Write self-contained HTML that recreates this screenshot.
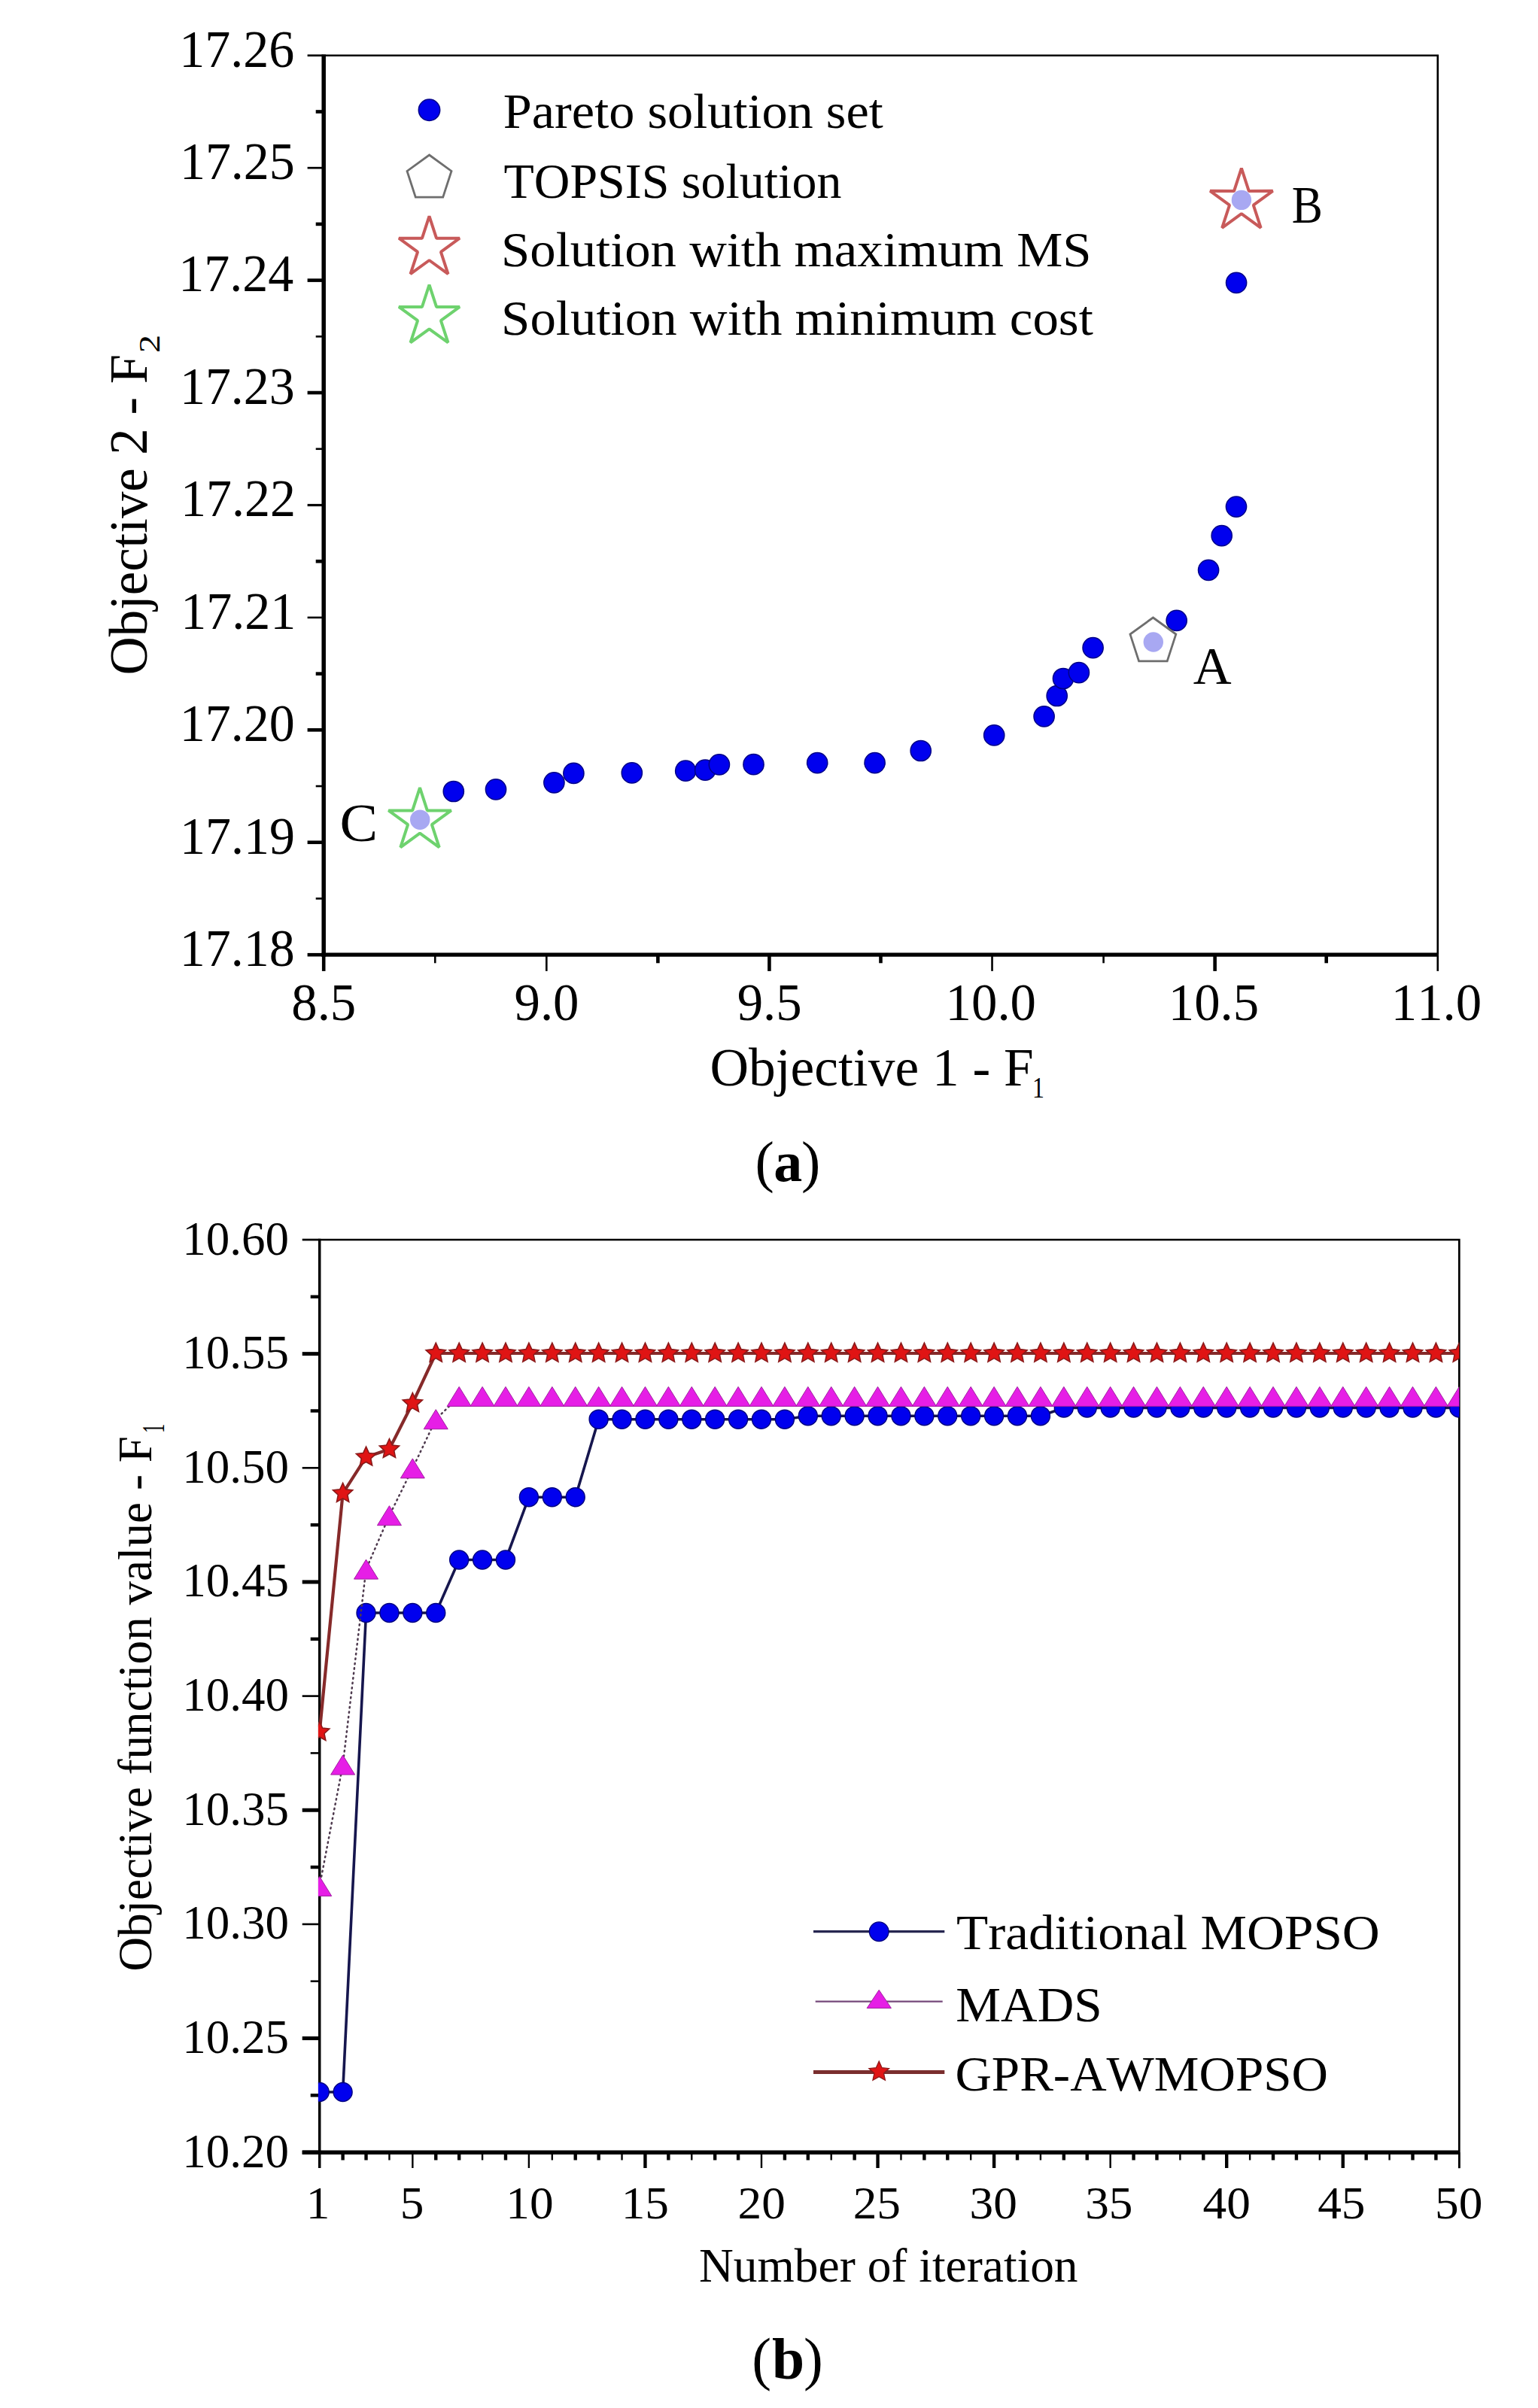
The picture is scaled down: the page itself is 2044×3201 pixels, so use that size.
<!DOCTYPE html><html><head><meta charset="utf-8"><style>html,body{margin:0;padding:0;background:#fff}svg{display:block}text{font-family:'Liberation Serif', 'DejaVu Serif', serif;font-kerning:none}</style></head><body>
<svg width="2044" height="3201" viewBox="0 0 2044 3201">
<rect x="0" y="0" width="2044" height="3201" fill="#fff"/>
<line x1="408.60" y1="73.75" x2="430.20" y2="73.75" stroke="#000" stroke-width="2.7" />
<line x1="419.70" y1="148.47" x2="430.20" y2="148.47" stroke="#000" stroke-width="4.6" />
<line x1="408.60" y1="223.18" x2="430.20" y2="223.18" stroke="#000" stroke-width="2.7" />
<line x1="419.70" y1="297.90" x2="430.20" y2="297.90" stroke="#000" stroke-width="4.6" />
<line x1="408.60" y1="372.61" x2="430.20" y2="372.61" stroke="#000" stroke-width="4.6" />
<line x1="419.70" y1="447.33" x2="430.20" y2="447.33" stroke="#000" stroke-width="2.6" />
<line x1="408.60" y1="522.04" x2="430.20" y2="522.04" stroke="#000" stroke-width="4.6" />
<line x1="419.70" y1="596.76" x2="430.20" y2="596.76" stroke="#000" stroke-width="2.6" />
<line x1="408.60" y1="671.48" x2="430.20" y2="671.48" stroke="#000" stroke-width="3.2" />
<line x1="419.70" y1="746.19" x2="430.20" y2="746.19" stroke="#000" stroke-width="4.6" />
<line x1="408.60" y1="820.91" x2="430.20" y2="820.91" stroke="#000" stroke-width="2.6" />
<line x1="419.70" y1="895.62" x2="430.20" y2="895.62" stroke="#000" stroke-width="4.6" />
<line x1="408.60" y1="970.34" x2="430.20" y2="970.34" stroke="#000" stroke-width="4.6" />
<line x1="419.70" y1="1045.05" x2="430.20" y2="1045.05" stroke="#000" stroke-width="2.6" />
<line x1="408.60" y1="1119.77" x2="430.20" y2="1119.77" stroke="#000" stroke-width="4.6" />
<line x1="419.70" y1="1194.48" x2="430.20" y2="1194.48" stroke="#000" stroke-width="2.6" />
<line x1="408.60" y1="1269.20" x2="430.20" y2="1269.20" stroke="#000" stroke-width="4.6" />
<line x1="430.20" y1="1269.20" x2="430.20" y2="1290.90" stroke="#000" stroke-width="4.6" />
<line x1="578.25" y1="1269.20" x2="578.25" y2="1280.30" stroke="#000" stroke-width="2.6" />
<line x1="726.31" y1="1269.20" x2="726.31" y2="1290.90" stroke="#000" stroke-width="2.6" />
<line x1="874.37" y1="1269.20" x2="874.37" y2="1280.30" stroke="#000" stroke-width="4.6" />
<line x1="1022.42" y1="1269.20" x2="1022.42" y2="1290.90" stroke="#000" stroke-width="4.6" />
<line x1="1170.48" y1="1269.20" x2="1170.48" y2="1280.30" stroke="#000" stroke-width="4.6" />
<line x1="1318.53" y1="1269.20" x2="1318.53" y2="1290.90" stroke="#000" stroke-width="2.6" />
<line x1="1466.59" y1="1269.20" x2="1466.59" y2="1280.30" stroke="#000" stroke-width="2.6" />
<line x1="1614.64" y1="1269.20" x2="1614.64" y2="1290.90" stroke="#000" stroke-width="4.6" />
<line x1="1762.70" y1="1269.20" x2="1762.70" y2="1280.30" stroke="#000" stroke-width="4.6" />
<line x1="1910.75" y1="1269.20" x2="1910.75" y2="1290.90" stroke="#000" stroke-width="2.6" />
<polyline points="430.2,73.75 1910.75,73.75 1910.75,1269.2" fill="none" stroke="#000" stroke-width="2.6" stroke-linejoin="miter"/>
<line x1="430.20" y1="72.45" x2="430.20" y2="1271.80" stroke="#000" stroke-width="5.5" />
<line x1="427.50" y1="1269.20" x2="1910.75" y2="1269.20" stroke="#000" stroke-width="5.2" />
<text transform="translate(238.29,88.55) scale(0.9780,1)" font-size="69.5" font-weight="normal" fill="#000" >17.26</text>
<text transform="translate(238.92,237.98) scale(0.9780,1)" font-size="69.5" font-weight="normal" fill="#000" >17.25</text>
<text transform="translate(237.33,387.41) scale(0.9780,1)" font-size="69.5" font-weight="normal" fill="#000" >17.24</text>
<text transform="translate(238.92,536.84) scale(0.9780,1)" font-size="69.5" font-weight="normal" fill="#000" >17.23</text>
<text transform="translate(240.02,686.27) scale(0.9780,1)" font-size="69.5" font-weight="normal" fill="#000" >17.22</text>
<text transform="translate(240.35,835.71) scale(0.9780,1)" font-size="69.5" font-weight="normal" fill="#000" >17.21</text>
<text transform="translate(238.85,985.14) scale(0.9780,1)" font-size="69.5" font-weight="normal" fill="#000" >17.20</text>
<text transform="translate(239.05,1134.57) scale(0.9780,1)" font-size="69.5" font-weight="normal" fill="#000" >17.19</text>
<text transform="translate(238.85,1284.00) scale(0.9780,1)" font-size="69.5" font-weight="normal" fill="#000" >17.18</text>
<text transform="translate(387.23,1355.50) scale(0.9900,1)" font-size="69.5" font-weight="normal" fill="#000" >8.5</text>
<text transform="translate(683.51,1355.50) scale(0.9900,1)" font-size="69.5" font-weight="normal" fill="#000" >9.0</text>
<text transform="translate(979.65,1355.50) scale(0.9900,1)" font-size="69.5" font-weight="normal" fill="#000" >9.5</text>
<text transform="translate(1256.61,1355.50) scale(0.9900,1)" font-size="69.5" font-weight="normal" fill="#000" >10.0</text>
<text transform="translate(1552.76,1355.50) scale(0.9900,1)" font-size="69.5" font-weight="normal" fill="#000" >10.5</text>
<text transform="translate(1848.83,1355.50) scale(0.9900,1)" font-size="69.5" font-weight="normal" fill="#000" >11.0</text>
<text transform="translate(943.47,1442.80) scale(0.9920,1)" font-size="72" font-weight="normal" fill="#000" >Objective 1 - F</text>
<text transform="translate(1371.90,1459.00) scale(0.7953,1)" font-size="40" font-weight="normal" fill="#000" >1</text>
<text transform="translate(194.80,897.40) rotate(-90) scale(0.9831,1)" font-size="72">Objective 2 - F</text>
<text transform="translate(212.00,469.14) rotate(-90) scale(1.2161,1)" font-size="40">2</text>
<circle cx="570.5" cy="146.2" r="14.2" fill="#0000ee" stroke="#000088" stroke-width="1.5"/>
<polygon points="570.50,206.00 599.98,227.42 588.72,262.08 552.28,262.08 541.02,227.42" fill="none" stroke="#6e6e6e" stroke-width="2.8" stroke-linejoin="miter"/>
<polygon points="570.50,287.30 580.02,316.69 610.92,316.67 585.91,334.81 595.48,364.18 570.50,346.00 545.52,364.18 555.09,334.81 530.08,316.67 560.98,316.69" fill="none" stroke="#c85a5a" stroke-width="4" stroke-linejoin="bevel"/>
<polygon points="570.50,378.60 580.02,407.99 610.92,407.97 585.91,426.11 595.48,455.48 570.50,437.30 545.52,455.48 555.09,426.11 530.08,407.97 560.98,407.99" fill="none" stroke="#6ed26e" stroke-width="4" stroke-linejoin="bevel"/>
<text transform="translate(668.73,169.90) scale(1.0601,1)" font-size="64.5" font-weight="normal" fill="#000" >Pareto solution set</text>
<text transform="translate(669.51,262.50) scale(1.0224,1)" font-size="64.5" font-weight="normal" fill="#000" >TOPSIS solution</text>
<text transform="translate(666.10,353.60) scale(1.0653,1)" font-size="64.5" font-weight="normal" fill="#000" >Solution with maximum MS</text>
<text transform="translate(666.09,444.60) scale(1.0684,1)" font-size="64.5" font-weight="normal" fill="#000" >Solution with minimum cost</text>
<circle cx="602.8" cy="1052" r="13.6" fill="#0000ee" stroke="#000088" stroke-width="1.5"/>
<circle cx="659" cy="1049.4" r="13.6" fill="#0000ee" stroke="#000088" stroke-width="1.5"/>
<circle cx="736.4" cy="1040.3" r="13.6" fill="#0000ee" stroke="#000088" stroke-width="1.5"/>
<circle cx="762.4" cy="1027.9" r="13.6" fill="#0000ee" stroke="#000088" stroke-width="1.5"/>
<circle cx="839.8" cy="1027.4" r="13.6" fill="#0000ee" stroke="#000088" stroke-width="1.5"/>
<circle cx="911.2" cy="1024.7" r="13.6" fill="#0000ee" stroke="#000088" stroke-width="1.5"/>
<circle cx="937.2" cy="1023.7" r="13.6" fill="#0000ee" stroke="#000088" stroke-width="1.5"/>
<circle cx="955.9" cy="1016.4" r="13.6" fill="#0000ee" stroke="#000088" stroke-width="1.5"/>
<circle cx="1001.5" cy="1016.2" r="13.6" fill="#0000ee" stroke="#000088" stroke-width="1.5"/>
<circle cx="1086.2" cy="1014.2" r="13.6" fill="#0000ee" stroke="#000088" stroke-width="1.5"/>
<circle cx="1162.6" cy="1014.2" r="13.6" fill="#0000ee" stroke="#000088" stroke-width="1.5"/>
<circle cx="1223.7" cy="998" r="13.6" fill="#0000ee" stroke="#000088" stroke-width="1.5"/>
<circle cx="1321.2" cy="977.4" r="13.6" fill="#0000ee" stroke="#000088" stroke-width="1.5"/>
<circle cx="1387.6" cy="952.4" r="13.6" fill="#0000ee" stroke="#000088" stroke-width="1.5"/>
<circle cx="1404.7" cy="925" r="13.6" fill="#0000ee" stroke="#000088" stroke-width="1.5"/>
<circle cx="1413" cy="902" r="13.6" fill="#0000ee" stroke="#000088" stroke-width="1.5"/>
<circle cx="1433.9" cy="894.1" r="13.6" fill="#0000ee" stroke="#000088" stroke-width="1.5"/>
<circle cx="1452.6" cy="861.1" r="13.6" fill="#0000ee" stroke="#000088" stroke-width="1.5"/>
<circle cx="1563.7" cy="824.8" r="13.6" fill="#0000ee" stroke="#000088" stroke-width="1.5"/>
<circle cx="1606.1" cy="757.8" r="13.6" fill="#0000ee" stroke="#000088" stroke-width="1.5"/>
<circle cx="1623.7" cy="712.1" r="13.6" fill="#0000ee" stroke="#000088" stroke-width="1.5"/>
<circle cx="1643" cy="673.6" r="13.6" fill="#0000ee" stroke="#000088" stroke-width="1.5"/>
<circle cx="1643.1" cy="375.8" r="13.6" fill="#0000ee" stroke="#000088" stroke-width="1.5"/>
<circle cx="558.2" cy="1089.7" r="13.2" fill="#a8a8f2"/>
<circle cx="1532.8" cy="853.5" r="13.2" fill="#a8a8f2"/>
<circle cx="1649.9" cy="265.9" r="13.2" fill="#a8a8f2"/>
<polygon points="1532.40,821.00 1562.83,843.11 1551.21,878.89 1513.59,878.89 1501.97,843.11" fill="none" stroke="#6e6e6e" stroke-width="2.8"/>
<polygon points="1649.90,223.60 1659.72,253.89 1691.56,253.87 1665.78,272.56 1675.64,302.83 1649.90,284.10 1624.16,302.83 1634.02,272.56 1608.24,253.87 1640.08,253.89" fill="none" stroke="#c85a5a" stroke-width="4" stroke-linejoin="bevel"/>
<polygon points="558.00,1047.20 567.82,1077.49 599.66,1077.47 573.88,1096.16 583.74,1126.43 558.00,1107.70 532.26,1126.43 542.12,1096.16 516.34,1077.47 548.18,1077.49" fill="none" stroke="#6ed26e" stroke-width="4" stroke-linejoin="bevel"/>
<text transform="translate(1585.81,909.30) scale(1.0000,1)" font-size="70.5" font-weight="normal" fill="#000" >A</text>
<text transform="translate(1716.63,295.50) scale(0.8737,1)" font-size="70.5" font-weight="normal" fill="#000" >B</text>
<text transform="translate(451.49,1118.00) scale(1.0536,1)" font-size="72" font-weight="normal" fill="#000" >C</text>
<text x="1003.46" y="1570.3" font-size="76">(</text>
<text x="1028.35" y="1570.3" font-size="76" font-weight="bold">a</text>
<text x="1065.03" y="1570.3" font-size="76">)</text>
<polyline points="424.7,1648.0 1939.3,1648.0 1939.3,2882.2" fill="none" stroke="#000" stroke-width="2.7" stroke-linejoin="miter"/>
<line x1="401.70" y1="1648.00" x2="424.70" y2="1648.00" stroke="#000" stroke-width="2.7" />
<line x1="412.70" y1="1723.83" x2="424.70" y2="1723.83" stroke="#000" stroke-width="4.4" />
<line x1="401.70" y1="1799.65" x2="424.70" y2="1799.65" stroke="#000" stroke-width="5.0" />
<line x1="412.70" y1="1875.48" x2="424.70" y2="1875.48" stroke="#000" stroke-width="4.4" />
<line x1="401.70" y1="1951.30" x2="424.70" y2="1951.30" stroke="#000" stroke-width="2.6" />
<line x1="412.70" y1="2027.12" x2="424.70" y2="2027.12" stroke="#000" stroke-width="4.4" />
<line x1="401.70" y1="2102.95" x2="424.70" y2="2102.95" stroke="#000" stroke-width="5.0" />
<line x1="412.70" y1="2178.77" x2="424.70" y2="2178.77" stroke="#000" stroke-width="4.4" />
<line x1="401.70" y1="2254.60" x2="424.70" y2="2254.60" stroke="#000" stroke-width="2.6" />
<line x1="412.70" y1="2330.42" x2="424.70" y2="2330.42" stroke="#000" stroke-width="2.6" />
<line x1="401.70" y1="2406.25" x2="424.70" y2="2406.25" stroke="#000" stroke-width="5.0" />
<line x1="412.70" y1="2482.07" x2="424.70" y2="2482.07" stroke="#000" stroke-width="4.4" />
<line x1="401.70" y1="2557.90" x2="424.70" y2="2557.90" stroke="#000" stroke-width="2.6" />
<line x1="412.70" y1="2633.72" x2="424.70" y2="2633.72" stroke="#000" stroke-width="2.6" />
<line x1="401.70" y1="2709.55" x2="424.70" y2="2709.55" stroke="#000" stroke-width="5.0" />
<line x1="412.70" y1="2785.37" x2="424.70" y2="2785.37" stroke="#000" stroke-width="4.4" />
<line x1="401.70" y1="2861.20" x2="424.70" y2="2861.20" stroke="#000" stroke-width="5.0" />
<line x1="424.70" y1="2861.20" x2="424.70" y2="2882.00" stroke="#000" stroke-width="2.4" />
<line x1="455.61" y1="2861.20" x2="455.61" y2="2871.50" stroke="#000" stroke-width="4.4" />
<line x1="486.52" y1="2861.20" x2="486.52" y2="2871.50" stroke="#000" stroke-width="4.4" />
<line x1="517.43" y1="2861.20" x2="517.43" y2="2871.50" stroke="#000" stroke-width="2.4" />
<line x1="548.34" y1="2861.20" x2="548.34" y2="2882.00" stroke="#000" stroke-width="2.4" />
<line x1="579.25" y1="2861.20" x2="579.25" y2="2871.50" stroke="#000" stroke-width="4.4" />
<line x1="610.16" y1="2861.20" x2="610.16" y2="2871.50" stroke="#000" stroke-width="4.4" />
<line x1="641.07" y1="2861.20" x2="641.07" y2="2871.50" stroke="#000" stroke-width="2.4" />
<line x1="671.98" y1="2861.20" x2="671.98" y2="2871.50" stroke="#000" stroke-width="4.4" />
<line x1="702.89" y1="2861.20" x2="702.89" y2="2882.00" stroke="#000" stroke-width="2.4" />
<line x1="733.80" y1="2861.20" x2="733.80" y2="2871.50" stroke="#000" stroke-width="2.4" />
<line x1="764.71" y1="2861.20" x2="764.71" y2="2871.50" stroke="#000" stroke-width="4.4" />
<line x1="795.62" y1="2861.20" x2="795.62" y2="2871.50" stroke="#000" stroke-width="4.4" />
<line x1="826.53" y1="2861.20" x2="826.53" y2="2871.50" stroke="#000" stroke-width="2.4" />
<line x1="857.44" y1="2861.20" x2="857.44" y2="2882.00" stroke="#000" stroke-width="4.4" />
<line x1="888.35" y1="2861.20" x2="888.35" y2="2871.50" stroke="#000" stroke-width="4.4" />
<line x1="919.26" y1="2861.20" x2="919.26" y2="2871.50" stroke="#000" stroke-width="2.4" />
<line x1="950.17" y1="2861.20" x2="950.17" y2="2871.50" stroke="#000" stroke-width="4.4" />
<line x1="981.08" y1="2861.20" x2="981.08" y2="2871.50" stroke="#000" stroke-width="4.4" />
<line x1="1011.99" y1="2861.20" x2="1011.99" y2="2882.00" stroke="#000" stroke-width="2.4" />
<line x1="1042.90" y1="2861.20" x2="1042.90" y2="2871.50" stroke="#000" stroke-width="4.4" />
<line x1="1073.81" y1="2861.20" x2="1073.81" y2="2871.50" stroke="#000" stroke-width="4.4" />
<line x1="1104.72" y1="2861.20" x2="1104.72" y2="2871.50" stroke="#000" stroke-width="2.4" />
<line x1="1135.63" y1="2861.20" x2="1135.63" y2="2871.50" stroke="#000" stroke-width="4.4" />
<line x1="1166.54" y1="2861.20" x2="1166.54" y2="2882.00" stroke="#000" stroke-width="4.4" />
<line x1="1197.46" y1="2861.20" x2="1197.46" y2="2871.50" stroke="#000" stroke-width="2.4" />
<line x1="1228.37" y1="2861.20" x2="1228.37" y2="2871.50" stroke="#000" stroke-width="4.4" />
<line x1="1259.28" y1="2861.20" x2="1259.28" y2="2871.50" stroke="#000" stroke-width="4.4" />
<line x1="1290.19" y1="2861.20" x2="1290.19" y2="2871.50" stroke="#000" stroke-width="2.4" />
<line x1="1321.10" y1="2861.20" x2="1321.10" y2="2882.00" stroke="#000" stroke-width="4.4" />
<line x1="1352.01" y1="2861.20" x2="1352.01" y2="2871.50" stroke="#000" stroke-width="4.4" />
<line x1="1382.92" y1="2861.20" x2="1382.92" y2="2871.50" stroke="#000" stroke-width="2.4" />
<line x1="1413.83" y1="2861.20" x2="1413.83" y2="2871.50" stroke="#000" stroke-width="4.4" />
<line x1="1444.74" y1="2861.20" x2="1444.74" y2="2871.50" stroke="#000" stroke-width="4.4" />
<line x1="1475.65" y1="2861.20" x2="1475.65" y2="2882.00" stroke="#000" stroke-width="2.4" />
<line x1="1506.56" y1="2861.20" x2="1506.56" y2="2871.50" stroke="#000" stroke-width="4.4" />
<line x1="1537.47" y1="2861.20" x2="1537.47" y2="2871.50" stroke="#000" stroke-width="4.4" />
<line x1="1568.38" y1="2861.20" x2="1568.38" y2="2871.50" stroke="#000" stroke-width="2.4" />
<line x1="1599.29" y1="2861.20" x2="1599.29" y2="2871.50" stroke="#000" stroke-width="4.4" />
<line x1="1630.20" y1="2861.20" x2="1630.20" y2="2882.00" stroke="#000" stroke-width="4.4" />
<line x1="1661.11" y1="2861.20" x2="1661.11" y2="2871.50" stroke="#000" stroke-width="2.4" />
<line x1="1692.02" y1="2861.20" x2="1692.02" y2="2871.50" stroke="#000" stroke-width="4.4" />
<line x1="1722.93" y1="2861.20" x2="1722.93" y2="2871.50" stroke="#000" stroke-width="4.4" />
<line x1="1753.84" y1="2861.20" x2="1753.84" y2="2871.50" stroke="#000" stroke-width="2.4" />
<line x1="1784.75" y1="2861.20" x2="1784.75" y2="2882.00" stroke="#000" stroke-width="4.4" />
<line x1="1815.66" y1="2861.20" x2="1815.66" y2="2871.50" stroke="#000" stroke-width="4.4" />
<line x1="1846.57" y1="2861.20" x2="1846.57" y2="2871.50" stroke="#000" stroke-width="2.4" />
<line x1="1877.48" y1="2861.20" x2="1877.48" y2="2871.50" stroke="#000" stroke-width="4.4" />
<line x1="1908.39" y1="2861.20" x2="1908.39" y2="2871.50" stroke="#000" stroke-width="4.4" />
<line x1="1939.30" y1="2861.20" x2="1939.30" y2="2882.00" stroke="#000" stroke-width="2.4" />
<line x1="424.70" y1="1646.70" x2="424.70" y2="2882.00" stroke="#000" stroke-width="3.5" />
<line x1="401.70" y1="2861.20" x2="1939.30" y2="2861.20" stroke="#000" stroke-width="5.6" />
<text transform="translate(242.15,1667.50) scale(1.0000,1)" font-size="63" font-weight="normal" fill="#000" >10.60</text>
<text transform="translate(242.21,1819.15) scale(1.0000,1)" font-size="63" font-weight="normal" fill="#000" >10.55</text>
<text transform="translate(242.15,1970.80) scale(1.0000,1)" font-size="63" font-weight="normal" fill="#000" >10.50</text>
<text transform="translate(242.21,2122.45) scale(1.0000,1)" font-size="63" font-weight="normal" fill="#000" >10.45</text>
<text transform="translate(242.15,2274.10) scale(1.0000,1)" font-size="63" font-weight="normal" fill="#000" >10.40</text>
<text transform="translate(242.21,2425.75) scale(1.0000,1)" font-size="63" font-weight="normal" fill="#000" >10.35</text>
<text transform="translate(242.15,2577.40) scale(1.0000,1)" font-size="63" font-weight="normal" fill="#000" >10.30</text>
<text transform="translate(242.21,2729.05) scale(1.0000,1)" font-size="63" font-weight="normal" fill="#000" >10.25</text>
<text transform="translate(242.15,2880.70) scale(1.0000,1)" font-size="63" font-weight="normal" fill="#000" >10.20</text>
<text transform="translate(406.78,2948.50) scale(1.0300,1)" font-size="61.5" font-weight="normal" fill="#000" >1</text>
<text transform="translate(531.86,2948.50) scale(1.0300,1)" font-size="61.5" font-weight="normal" fill="#000" >5</text>
<text transform="translate(672.25,2948.50) scale(1.0300,1)" font-size="61.5" font-weight="normal" fill="#000" >10</text>
<text transform="translate(825.68,2948.50) scale(1.0300,1)" font-size="61.5" font-weight="normal" fill="#000" >15</text>
<text transform="translate(980.54,2948.50) scale(1.0300,1)" font-size="61.5" font-weight="normal" fill="#000" >20</text>
<text transform="translate(1133.67,2948.50) scale(1.0300,1)" font-size="61.5" font-weight="normal" fill="#000" >25</text>
<text transform="translate(1288.52,2948.50) scale(1.0300,1)" font-size="61.5" font-weight="normal" fill="#000" >30</text>
<text transform="translate(1442.15,2948.50) scale(1.0300,1)" font-size="61.5" font-weight="normal" fill="#000" >35</text>
<text transform="translate(1598.62,2948.50) scale(1.0300,1)" font-size="61.5" font-weight="normal" fill="#000" >40</text>
<text transform="translate(1751.15,2948.50) scale(1.0300,1)" font-size="61.5" font-weight="normal" fill="#000" >45</text>
<text transform="translate(1906.99,2948.50) scale(1.0300,1)" font-size="61.5" font-weight="normal" fill="#000" >50</text>
<text transform="translate(929.07,3033.30) scale(1.0001,1)" font-size="63.4" font-weight="normal" fill="#000" >Number of iteration</text>
<text transform="translate(201.20,2620.59) rotate(-90) scale(0.9859,1)" font-size="64">Objective function value - F</text>
<text transform="translate(218.00,1905.05) rotate(-90) scale(0.5816,1)" font-size="42">1</text>
<text x="999.19" y="3162.0" font-size="77.5">(</text>
<text x="1026.03" y="3162.0" font-size="77.5" font-weight="bold">b</text>
<text x="1068.00" y="3162.0" font-size="77.5">)</text>
<defs><clipPath id="clipb"><rect x="422.9" y="1648.0" width="1516.3999999999999" height="1213.1999999999998"/></clipPath></defs>
<g clip-path="url(#clipb)">
<polyline points="424.70,2781.00 455.61,2781.00 486.52,2144.00 517.43,2144.00 548.34,2144.00 579.25,2144.00 610.16,2073.50 641.07,2073.50 671.98,2073.50 702.89,1990.20 733.80,1990.20 764.71,1990.20 795.62,1886.70 826.53,1886.70 857.44,1886.70 888.35,1886.70 919.26,1886.70 950.17,1886.70 981.08,1886.70 1011.99,1886.70 1042.90,1886.70 1073.81,1882.20 1104.72,1882.20 1135.63,1882.20 1166.54,1882.20 1197.46,1882.20 1228.37,1882.20 1259.28,1882.20 1290.19,1882.20 1321.10,1882.20 1352.01,1882.20 1382.92,1882.20 1413.83,1871.50 1444.74,1871.50 1475.65,1871.50 1506.56,1871.50 1537.47,1871.50 1568.38,1871.50 1599.29,1871.50 1630.20,1871.50 1661.11,1871.50 1692.02,1871.50 1722.93,1871.50 1753.84,1871.50 1784.75,1871.50 1815.66,1871.50 1846.57,1871.50 1877.48,1871.50 1908.39,1871.50 1939.30,1871.50" fill="none" stroke="#16164e" stroke-width="3.6"/>
<circle cx="424.70" cy="2781.00" r="12.5" fill="#0000ee" stroke="#000080" stroke-width="1.4"/>
<circle cx="455.61" cy="2781.00" r="12.5" fill="#0000ee" stroke="#000080" stroke-width="1.4"/>
<circle cx="486.52" cy="2144.00" r="12.5" fill="#0000ee" stroke="#000080" stroke-width="1.4"/>
<circle cx="517.43" cy="2144.00" r="12.5" fill="#0000ee" stroke="#000080" stroke-width="1.4"/>
<circle cx="548.34" cy="2144.00" r="12.5" fill="#0000ee" stroke="#000080" stroke-width="1.4"/>
<circle cx="579.25" cy="2144.00" r="12.5" fill="#0000ee" stroke="#000080" stroke-width="1.4"/>
<circle cx="610.16" cy="2073.50" r="12.5" fill="#0000ee" stroke="#000080" stroke-width="1.4"/>
<circle cx="641.07" cy="2073.50" r="12.5" fill="#0000ee" stroke="#000080" stroke-width="1.4"/>
<circle cx="671.98" cy="2073.50" r="12.5" fill="#0000ee" stroke="#000080" stroke-width="1.4"/>
<circle cx="702.89" cy="1990.20" r="12.5" fill="#0000ee" stroke="#000080" stroke-width="1.4"/>
<circle cx="733.80" cy="1990.20" r="12.5" fill="#0000ee" stroke="#000080" stroke-width="1.4"/>
<circle cx="764.71" cy="1990.20" r="12.5" fill="#0000ee" stroke="#000080" stroke-width="1.4"/>
<circle cx="795.62" cy="1886.70" r="12.5" fill="#0000ee" stroke="#000080" stroke-width="1.4"/>
<circle cx="826.53" cy="1886.70" r="12.5" fill="#0000ee" stroke="#000080" stroke-width="1.4"/>
<circle cx="857.44" cy="1886.70" r="12.5" fill="#0000ee" stroke="#000080" stroke-width="1.4"/>
<circle cx="888.35" cy="1886.70" r="12.5" fill="#0000ee" stroke="#000080" stroke-width="1.4"/>
<circle cx="919.26" cy="1886.70" r="12.5" fill="#0000ee" stroke="#000080" stroke-width="1.4"/>
<circle cx="950.17" cy="1886.70" r="12.5" fill="#0000ee" stroke="#000080" stroke-width="1.4"/>
<circle cx="981.08" cy="1886.70" r="12.5" fill="#0000ee" stroke="#000080" stroke-width="1.4"/>
<circle cx="1011.99" cy="1886.70" r="12.5" fill="#0000ee" stroke="#000080" stroke-width="1.4"/>
<circle cx="1042.90" cy="1886.70" r="12.5" fill="#0000ee" stroke="#000080" stroke-width="1.4"/>
<circle cx="1073.81" cy="1882.20" r="12.5" fill="#0000ee" stroke="#000080" stroke-width="1.4"/>
<circle cx="1104.72" cy="1882.20" r="12.5" fill="#0000ee" stroke="#000080" stroke-width="1.4"/>
<circle cx="1135.63" cy="1882.20" r="12.5" fill="#0000ee" stroke="#000080" stroke-width="1.4"/>
<circle cx="1166.54" cy="1882.20" r="12.5" fill="#0000ee" stroke="#000080" stroke-width="1.4"/>
<circle cx="1197.46" cy="1882.20" r="12.5" fill="#0000ee" stroke="#000080" stroke-width="1.4"/>
<circle cx="1228.37" cy="1882.20" r="12.5" fill="#0000ee" stroke="#000080" stroke-width="1.4"/>
<circle cx="1259.28" cy="1882.20" r="12.5" fill="#0000ee" stroke="#000080" stroke-width="1.4"/>
<circle cx="1290.19" cy="1882.20" r="12.5" fill="#0000ee" stroke="#000080" stroke-width="1.4"/>
<circle cx="1321.10" cy="1882.20" r="12.5" fill="#0000ee" stroke="#000080" stroke-width="1.4"/>
<circle cx="1352.01" cy="1882.20" r="12.5" fill="#0000ee" stroke="#000080" stroke-width="1.4"/>
<circle cx="1382.92" cy="1882.20" r="12.5" fill="#0000ee" stroke="#000080" stroke-width="1.4"/>
<circle cx="1413.83" cy="1871.50" r="12.5" fill="#0000ee" stroke="#000080" stroke-width="1.4"/>
<circle cx="1444.74" cy="1871.50" r="12.5" fill="#0000ee" stroke="#000080" stroke-width="1.4"/>
<circle cx="1475.65" cy="1871.50" r="12.5" fill="#0000ee" stroke="#000080" stroke-width="1.4"/>
<circle cx="1506.56" cy="1871.50" r="12.5" fill="#0000ee" stroke="#000080" stroke-width="1.4"/>
<circle cx="1537.47" cy="1871.50" r="12.5" fill="#0000ee" stroke="#000080" stroke-width="1.4"/>
<circle cx="1568.38" cy="1871.50" r="12.5" fill="#0000ee" stroke="#000080" stroke-width="1.4"/>
<circle cx="1599.29" cy="1871.50" r="12.5" fill="#0000ee" stroke="#000080" stroke-width="1.4"/>
<circle cx="1630.20" cy="1871.50" r="12.5" fill="#0000ee" stroke="#000080" stroke-width="1.4"/>
<circle cx="1661.11" cy="1871.50" r="12.5" fill="#0000ee" stroke="#000080" stroke-width="1.4"/>
<circle cx="1692.02" cy="1871.50" r="12.5" fill="#0000ee" stroke="#000080" stroke-width="1.4"/>
<circle cx="1722.93" cy="1871.50" r="12.5" fill="#0000ee" stroke="#000080" stroke-width="1.4"/>
<circle cx="1753.84" cy="1871.50" r="12.5" fill="#0000ee" stroke="#000080" stroke-width="1.4"/>
<circle cx="1784.75" cy="1871.50" r="12.5" fill="#0000ee" stroke="#000080" stroke-width="1.4"/>
<circle cx="1815.66" cy="1871.50" r="12.5" fill="#0000ee" stroke="#000080" stroke-width="1.4"/>
<circle cx="1846.57" cy="1871.50" r="12.5" fill="#0000ee" stroke="#000080" stroke-width="1.4"/>
<circle cx="1877.48" cy="1871.50" r="12.5" fill="#0000ee" stroke="#000080" stroke-width="1.4"/>
<circle cx="1908.39" cy="1871.50" r="12.5" fill="#0000ee" stroke="#000080" stroke-width="1.4"/>
<circle cx="1939.30" cy="1871.50" r="12.5" fill="#0000ee" stroke="#000080" stroke-width="1.4"/>
<polyline points="424.70,2507.40 455.61,2346.10 486.52,2086.10 517.43,2014.70 548.34,1951.90 579.25,1886.70 610.16,1856.40" fill="none" stroke="#4e3a4e" stroke-width="2.5" stroke-dasharray="1.4 5.1" stroke-linecap="round"/>
<polygon points="424.70,2494.40 440.70,2520.40 408.70,2520.40" fill="#e61ee6" stroke="#a01ea0" stroke-width="1"/>
<polygon points="455.61,2333.10 471.61,2359.10 439.61,2359.10" fill="#e61ee6" stroke="#a01ea0" stroke-width="1"/>
<polygon points="486.52,2073.10 502.52,2099.10 470.52,2099.10" fill="#e61ee6" stroke="#a01ea0" stroke-width="1"/>
<polygon points="517.43,2001.70 533.43,2027.70 501.43,2027.70" fill="#e61ee6" stroke="#a01ea0" stroke-width="1"/>
<polygon points="548.34,1938.90 564.34,1964.90 532.34,1964.90" fill="#e61ee6" stroke="#a01ea0" stroke-width="1"/>
<polygon points="579.25,1873.70 595.25,1899.70 563.25,1899.70" fill="#e61ee6" stroke="#a01ea0" stroke-width="1"/>
<polygon points="610.16,1843.40 626.16,1869.40 594.16,1869.40" fill="#e61ee6" stroke="#a01ea0" stroke-width="1"/>
<polygon points="641.07,1843.40 657.07,1869.40 625.07,1869.40" fill="#e61ee6" stroke="#a01ea0" stroke-width="1"/>
<polygon points="671.98,1843.40 687.98,1869.40 655.98,1869.40" fill="#e61ee6" stroke="#a01ea0" stroke-width="1"/>
<polygon points="702.89,1843.40 718.89,1869.40 686.89,1869.40" fill="#e61ee6" stroke="#a01ea0" stroke-width="1"/>
<polygon points="733.80,1843.40 749.80,1869.40 717.80,1869.40" fill="#e61ee6" stroke="#a01ea0" stroke-width="1"/>
<polygon points="764.71,1843.40 780.71,1869.40 748.71,1869.40" fill="#e61ee6" stroke="#a01ea0" stroke-width="1"/>
<polygon points="795.62,1843.40 811.62,1869.40 779.62,1869.40" fill="#e61ee6" stroke="#a01ea0" stroke-width="1"/>
<polygon points="826.53,1843.40 842.53,1869.40 810.53,1869.40" fill="#e61ee6" stroke="#a01ea0" stroke-width="1"/>
<polygon points="857.44,1843.40 873.44,1869.40 841.44,1869.40" fill="#e61ee6" stroke="#a01ea0" stroke-width="1"/>
<polygon points="888.35,1843.40 904.35,1869.40 872.35,1869.40" fill="#e61ee6" stroke="#a01ea0" stroke-width="1"/>
<polygon points="919.26,1843.40 935.26,1869.40 903.26,1869.40" fill="#e61ee6" stroke="#a01ea0" stroke-width="1"/>
<polygon points="950.17,1843.40 966.17,1869.40 934.17,1869.40" fill="#e61ee6" stroke="#a01ea0" stroke-width="1"/>
<polygon points="981.08,1843.40 997.08,1869.40 965.08,1869.40" fill="#e61ee6" stroke="#a01ea0" stroke-width="1"/>
<polygon points="1011.99,1843.40 1027.99,1869.40 995.99,1869.40" fill="#e61ee6" stroke="#a01ea0" stroke-width="1"/>
<polygon points="1042.90,1843.40 1058.90,1869.40 1026.90,1869.40" fill="#e61ee6" stroke="#a01ea0" stroke-width="1"/>
<polygon points="1073.81,1843.40 1089.81,1869.40 1057.81,1869.40" fill="#e61ee6" stroke="#a01ea0" stroke-width="1"/>
<polygon points="1104.72,1843.40 1120.72,1869.40 1088.72,1869.40" fill="#e61ee6" stroke="#a01ea0" stroke-width="1"/>
<polygon points="1135.63,1843.40 1151.63,1869.40 1119.63,1869.40" fill="#e61ee6" stroke="#a01ea0" stroke-width="1"/>
<polygon points="1166.54,1843.40 1182.54,1869.40 1150.54,1869.40" fill="#e61ee6" stroke="#a01ea0" stroke-width="1"/>
<polygon points="1197.46,1843.40 1213.46,1869.40 1181.46,1869.40" fill="#e61ee6" stroke="#a01ea0" stroke-width="1"/>
<polygon points="1228.37,1843.40 1244.37,1869.40 1212.37,1869.40" fill="#e61ee6" stroke="#a01ea0" stroke-width="1"/>
<polygon points="1259.28,1843.40 1275.28,1869.40 1243.28,1869.40" fill="#e61ee6" stroke="#a01ea0" stroke-width="1"/>
<polygon points="1290.19,1843.40 1306.19,1869.40 1274.19,1869.40" fill="#e61ee6" stroke="#a01ea0" stroke-width="1"/>
<polygon points="1321.10,1843.40 1337.10,1869.40 1305.10,1869.40" fill="#e61ee6" stroke="#a01ea0" stroke-width="1"/>
<polygon points="1352.01,1843.40 1368.01,1869.40 1336.01,1869.40" fill="#e61ee6" stroke="#a01ea0" stroke-width="1"/>
<polygon points="1382.92,1843.40 1398.92,1869.40 1366.92,1869.40" fill="#e61ee6" stroke="#a01ea0" stroke-width="1"/>
<polygon points="1413.83,1843.40 1429.83,1869.40 1397.83,1869.40" fill="#e61ee6" stroke="#a01ea0" stroke-width="1"/>
<polygon points="1444.74,1843.40 1460.74,1869.40 1428.74,1869.40" fill="#e61ee6" stroke="#a01ea0" stroke-width="1"/>
<polygon points="1475.65,1843.40 1491.65,1869.40 1459.65,1869.40" fill="#e61ee6" stroke="#a01ea0" stroke-width="1"/>
<polygon points="1506.56,1843.40 1522.56,1869.40 1490.56,1869.40" fill="#e61ee6" stroke="#a01ea0" stroke-width="1"/>
<polygon points="1537.47,1843.40 1553.47,1869.40 1521.47,1869.40" fill="#e61ee6" stroke="#a01ea0" stroke-width="1"/>
<polygon points="1568.38,1843.40 1584.38,1869.40 1552.38,1869.40" fill="#e61ee6" stroke="#a01ea0" stroke-width="1"/>
<polygon points="1599.29,1843.40 1615.29,1869.40 1583.29,1869.40" fill="#e61ee6" stroke="#a01ea0" stroke-width="1"/>
<polygon points="1630.20,1843.40 1646.20,1869.40 1614.20,1869.40" fill="#e61ee6" stroke="#a01ea0" stroke-width="1"/>
<polygon points="1661.11,1843.40 1677.11,1869.40 1645.11,1869.40" fill="#e61ee6" stroke="#a01ea0" stroke-width="1"/>
<polygon points="1692.02,1843.40 1708.02,1869.40 1676.02,1869.40" fill="#e61ee6" stroke="#a01ea0" stroke-width="1"/>
<polygon points="1722.93,1843.40 1738.93,1869.40 1706.93,1869.40" fill="#e61ee6" stroke="#a01ea0" stroke-width="1"/>
<polygon points="1753.84,1843.40 1769.84,1869.40 1737.84,1869.40" fill="#e61ee6" stroke="#a01ea0" stroke-width="1"/>
<polygon points="1784.75,1843.40 1800.75,1869.40 1768.75,1869.40" fill="#e61ee6" stroke="#a01ea0" stroke-width="1"/>
<polygon points="1815.66,1843.40 1831.66,1869.40 1799.66,1869.40" fill="#e61ee6" stroke="#a01ea0" stroke-width="1"/>
<polygon points="1846.57,1843.40 1862.57,1869.40 1830.57,1869.40" fill="#e61ee6" stroke="#a01ea0" stroke-width="1"/>
<polygon points="1877.48,1843.40 1893.48,1869.40 1861.48,1869.40" fill="#e61ee6" stroke="#a01ea0" stroke-width="1"/>
<polygon points="1908.39,1843.40 1924.39,1869.40 1892.39,1869.40" fill="#e61ee6" stroke="#a01ea0" stroke-width="1"/>
<polygon points="1939.30,1843.40 1955.30,1869.40 1923.30,1869.40" fill="#e61ee6" stroke="#a01ea0" stroke-width="1"/>
<polyline points="424.70,2302.40 455.61,1985.20 486.52,1936.90 517.43,1926.40 548.34,1865.30 579.25,1799.00 610.16,1799.00 641.07,1799.00 671.98,1799.00 702.89,1799.00 733.80,1799.00 764.71,1799.00 795.62,1799.00 826.53,1799.00 857.44,1799.00 888.35,1799.00 919.26,1799.00 950.17,1799.00 981.08,1799.00 1011.99,1799.00 1042.90,1799.00 1073.81,1799.00 1104.72,1799.00 1135.63,1799.00 1166.54,1799.00 1197.46,1799.00 1228.37,1799.00 1259.28,1799.00 1290.19,1799.00 1321.10,1799.00 1352.01,1799.00 1382.92,1799.00 1413.83,1799.00 1444.74,1799.00 1475.65,1799.00 1506.56,1799.00 1537.47,1799.00 1568.38,1799.00 1599.29,1799.00 1630.20,1799.00 1661.11,1799.00 1692.02,1799.00 1722.93,1799.00 1753.84,1799.00 1784.75,1799.00 1815.66,1799.00 1846.57,1799.00 1877.48,1799.00 1908.39,1799.00 1939.30,1799.00" fill="none" stroke="#862a2a" stroke-width="4.2"/>
<polygon points="424.70,2288.60 428.58,2297.06 437.82,2298.14 430.98,2304.44 432.81,2313.56 424.70,2309.00 416.59,2313.56 418.42,2304.44 411.58,2298.14 420.82,2297.06" fill="#e01414" stroke="#8b1a1a" stroke-width="1.6"/>
<polygon points="455.61,1971.40 459.49,1979.86 468.73,1980.94 461.89,1987.24 463.72,1996.36 455.61,1991.80 447.50,1996.36 449.33,1987.24 442.49,1980.94 451.73,1979.86" fill="#e01414" stroke="#8b1a1a" stroke-width="1.6"/>
<polygon points="486.52,1923.10 490.40,1931.56 499.64,1932.64 492.80,1938.94 494.63,1948.06 486.52,1943.50 478.41,1948.06 480.24,1938.94 473.40,1932.64 482.64,1931.56" fill="#e01414" stroke="#8b1a1a" stroke-width="1.6"/>
<polygon points="517.43,1912.60 521.31,1921.06 530.56,1922.14 523.71,1928.44 525.54,1937.56 517.43,1933.00 509.32,1937.56 511.15,1928.44 504.31,1922.14 513.55,1921.06" fill="#e01414" stroke="#8b1a1a" stroke-width="1.6"/>
<polygon points="548.34,1851.50 552.22,1859.96 561.47,1861.04 554.62,1867.34 556.45,1876.46 548.34,1871.90 540.23,1876.46 542.06,1867.34 535.22,1861.04 544.46,1859.96" fill="#e01414" stroke="#8b1a1a" stroke-width="1.6"/>
<polygon points="579.25,1785.20 583.13,1793.66 592.38,1794.74 585.53,1801.04 587.36,1810.16 579.25,1805.60 571.14,1810.16 572.97,1801.04 566.13,1794.74 575.37,1793.66" fill="#e01414" stroke="#8b1a1a" stroke-width="1.6"/>
<polygon points="610.16,1785.20 614.04,1793.66 623.29,1794.74 616.44,1801.04 618.27,1810.16 610.16,1805.60 602.05,1810.16 603.88,1801.04 597.04,1794.74 606.28,1793.66" fill="#e01414" stroke="#8b1a1a" stroke-width="1.6"/>
<polygon points="641.07,1785.20 644.95,1793.66 654.20,1794.74 647.35,1801.04 649.18,1810.16 641.07,1805.60 632.96,1810.16 634.79,1801.04 627.95,1794.74 637.19,1793.66" fill="#e01414" stroke="#8b1a1a" stroke-width="1.6"/>
<polygon points="671.98,1785.20 675.86,1793.66 685.11,1794.74 678.26,1801.04 680.09,1810.16 671.98,1805.60 663.87,1810.16 665.70,1801.04 658.86,1794.74 668.10,1793.66" fill="#e01414" stroke="#8b1a1a" stroke-width="1.6"/>
<polygon points="702.89,1785.20 706.77,1793.66 716.02,1794.74 709.17,1801.04 711.00,1810.16 702.89,1805.60 694.78,1810.16 696.61,1801.04 689.77,1794.74 699.01,1793.66" fill="#e01414" stroke="#8b1a1a" stroke-width="1.6"/>
<polygon points="733.80,1785.20 737.68,1793.66 746.93,1794.74 740.08,1801.04 741.91,1810.16 733.80,1805.60 725.69,1810.16 727.53,1801.04 720.68,1794.74 729.92,1793.66" fill="#e01414" stroke="#8b1a1a" stroke-width="1.6"/>
<polygon points="764.71,1785.20 768.59,1793.66 777.84,1794.74 770.99,1801.04 772.82,1810.16 764.71,1805.60 756.60,1810.16 758.44,1801.04 751.59,1794.74 760.83,1793.66" fill="#e01414" stroke="#8b1a1a" stroke-width="1.6"/>
<polygon points="795.62,1785.20 799.50,1793.66 808.75,1794.74 801.90,1801.04 803.73,1810.16 795.62,1805.60 787.51,1810.16 789.35,1801.04 782.50,1794.74 791.74,1793.66" fill="#e01414" stroke="#8b1a1a" stroke-width="1.6"/>
<polygon points="826.53,1785.20 830.41,1793.66 839.66,1794.74 832.81,1801.04 834.64,1810.16 826.53,1805.60 818.42,1810.16 820.26,1801.04 813.41,1794.74 822.65,1793.66" fill="#e01414" stroke="#8b1a1a" stroke-width="1.6"/>
<polygon points="857.44,1785.20 861.32,1793.66 870.57,1794.74 863.72,1801.04 865.55,1810.16 857.44,1805.60 849.33,1810.16 851.17,1801.04 844.32,1794.74 853.56,1793.66" fill="#e01414" stroke="#8b1a1a" stroke-width="1.6"/>
<polygon points="888.35,1785.20 892.23,1793.66 901.48,1794.74 894.63,1801.04 896.46,1810.16 888.35,1805.60 880.24,1810.16 882.08,1801.04 875.23,1794.74 884.47,1793.66" fill="#e01414" stroke="#8b1a1a" stroke-width="1.6"/>
<polygon points="919.26,1785.20 923.14,1793.66 932.39,1794.74 925.54,1801.04 927.37,1810.16 919.26,1805.60 911.15,1810.16 912.99,1801.04 906.14,1794.74 915.38,1793.66" fill="#e01414" stroke="#8b1a1a" stroke-width="1.6"/>
<polygon points="950.17,1785.20 954.05,1793.66 963.30,1794.74 956.45,1801.04 958.28,1810.16 950.17,1805.60 942.06,1810.16 943.90,1801.04 937.05,1794.74 946.29,1793.66" fill="#e01414" stroke="#8b1a1a" stroke-width="1.6"/>
<polygon points="981.08,1785.20 984.96,1793.66 994.21,1794.74 987.36,1801.04 989.20,1810.16 981.08,1805.60 972.97,1810.16 974.81,1801.04 967.96,1794.74 977.20,1793.66" fill="#e01414" stroke="#8b1a1a" stroke-width="1.6"/>
<polygon points="1011.99,1785.20 1015.87,1793.66 1025.12,1794.74 1018.27,1801.04 1020.11,1810.16 1011.99,1805.60 1003.88,1810.16 1005.72,1801.04 998.87,1794.74 1008.11,1793.66" fill="#e01414" stroke="#8b1a1a" stroke-width="1.6"/>
<polygon points="1042.90,1785.20 1046.78,1793.66 1056.03,1794.74 1049.18,1801.04 1051.02,1810.16 1042.90,1805.60 1034.79,1810.16 1036.63,1801.04 1029.78,1794.74 1039.02,1793.66" fill="#e01414" stroke="#8b1a1a" stroke-width="1.6"/>
<polygon points="1073.81,1785.20 1077.69,1793.66 1086.94,1794.74 1080.09,1801.04 1081.93,1810.16 1073.81,1805.60 1065.70,1810.16 1067.54,1801.04 1060.69,1794.74 1069.93,1793.66" fill="#e01414" stroke="#8b1a1a" stroke-width="1.6"/>
<polygon points="1104.72,1785.20 1108.60,1793.66 1117.85,1794.74 1111.00,1801.04 1112.84,1810.16 1104.72,1805.60 1096.61,1810.16 1098.45,1801.04 1091.60,1794.74 1100.85,1793.66" fill="#e01414" stroke="#8b1a1a" stroke-width="1.6"/>
<polygon points="1135.63,1785.20 1139.51,1793.66 1148.76,1794.74 1141.91,1801.04 1143.75,1810.16 1135.63,1805.60 1127.52,1810.16 1129.36,1801.04 1122.51,1794.74 1131.76,1793.66" fill="#e01414" stroke="#8b1a1a" stroke-width="1.6"/>
<polygon points="1166.54,1785.20 1170.42,1793.66 1179.67,1794.74 1172.82,1801.04 1174.66,1810.16 1166.54,1805.60 1158.43,1810.16 1160.27,1801.04 1153.42,1794.74 1162.67,1793.66" fill="#e01414" stroke="#8b1a1a" stroke-width="1.6"/>
<polygon points="1197.46,1785.20 1201.33,1793.66 1210.58,1794.74 1203.73,1801.04 1205.57,1810.16 1197.46,1805.60 1189.34,1810.16 1191.18,1801.04 1184.33,1794.74 1193.58,1793.66" fill="#e01414" stroke="#8b1a1a" stroke-width="1.6"/>
<polygon points="1228.37,1785.20 1232.24,1793.66 1241.49,1794.74 1234.64,1801.04 1236.48,1810.16 1228.37,1805.60 1220.25,1810.16 1222.09,1801.04 1215.24,1794.74 1224.49,1793.66" fill="#e01414" stroke="#8b1a1a" stroke-width="1.6"/>
<polygon points="1259.28,1785.20 1263.15,1793.66 1272.40,1794.74 1265.55,1801.04 1267.39,1810.16 1259.28,1805.60 1251.16,1810.16 1253.00,1801.04 1246.15,1794.74 1255.40,1793.66" fill="#e01414" stroke="#8b1a1a" stroke-width="1.6"/>
<polygon points="1290.19,1785.20 1294.07,1793.66 1303.31,1794.74 1296.46,1801.04 1298.30,1810.16 1290.19,1805.60 1282.07,1810.16 1283.91,1801.04 1277.06,1794.74 1286.31,1793.66" fill="#e01414" stroke="#8b1a1a" stroke-width="1.6"/>
<polygon points="1321.10,1785.20 1324.98,1793.66 1334.22,1794.74 1327.37,1801.04 1329.21,1810.16 1321.10,1805.60 1312.98,1810.16 1314.82,1801.04 1307.97,1794.74 1317.22,1793.66" fill="#e01414" stroke="#8b1a1a" stroke-width="1.6"/>
<polygon points="1352.01,1785.20 1355.89,1793.66 1365.13,1794.74 1358.28,1801.04 1360.12,1810.16 1352.01,1805.60 1343.89,1810.16 1345.73,1801.04 1338.88,1794.74 1348.13,1793.66" fill="#e01414" stroke="#8b1a1a" stroke-width="1.6"/>
<polygon points="1382.92,1785.20 1386.80,1793.66 1396.04,1794.74 1389.19,1801.04 1391.03,1810.16 1382.92,1805.60 1374.80,1810.16 1376.64,1801.04 1369.79,1794.74 1379.04,1793.66" fill="#e01414" stroke="#8b1a1a" stroke-width="1.6"/>
<polygon points="1413.83,1785.20 1417.71,1793.66 1426.95,1794.74 1420.10,1801.04 1421.94,1810.16 1413.83,1805.60 1405.72,1810.16 1407.55,1801.04 1400.70,1794.74 1409.95,1793.66" fill="#e01414" stroke="#8b1a1a" stroke-width="1.6"/>
<polygon points="1444.74,1785.20 1448.62,1793.66 1457.86,1794.74 1451.01,1801.04 1452.85,1810.16 1444.74,1805.60 1436.63,1810.16 1438.46,1801.04 1431.61,1794.74 1440.86,1793.66" fill="#e01414" stroke="#8b1a1a" stroke-width="1.6"/>
<polygon points="1475.65,1785.20 1479.53,1793.66 1488.77,1794.74 1481.92,1801.04 1483.76,1810.16 1475.65,1805.60 1467.54,1810.16 1469.37,1801.04 1462.52,1794.74 1471.77,1793.66" fill="#e01414" stroke="#8b1a1a" stroke-width="1.6"/>
<polygon points="1506.56,1785.20 1510.44,1793.66 1519.68,1794.74 1512.83,1801.04 1514.67,1810.16 1506.56,1805.60 1498.45,1810.16 1500.28,1801.04 1493.43,1794.74 1502.68,1793.66" fill="#e01414" stroke="#8b1a1a" stroke-width="1.6"/>
<polygon points="1537.47,1785.20 1541.35,1793.66 1550.59,1794.74 1543.74,1801.04 1545.58,1810.16 1537.47,1805.60 1529.36,1810.16 1531.19,1801.04 1524.34,1794.74 1533.59,1793.66" fill="#e01414" stroke="#8b1a1a" stroke-width="1.6"/>
<polygon points="1568.38,1785.20 1572.26,1793.66 1581.50,1794.74 1574.65,1801.04 1576.49,1810.16 1568.38,1805.60 1560.27,1810.16 1562.10,1801.04 1555.25,1794.74 1564.50,1793.66" fill="#e01414" stroke="#8b1a1a" stroke-width="1.6"/>
<polygon points="1599.29,1785.20 1603.17,1793.66 1612.41,1794.74 1605.56,1801.04 1607.40,1810.16 1599.29,1805.60 1591.18,1810.16 1593.01,1801.04 1586.16,1794.74 1595.41,1793.66" fill="#e01414" stroke="#8b1a1a" stroke-width="1.6"/>
<polygon points="1630.20,1785.20 1634.08,1793.66 1643.32,1794.74 1636.47,1801.04 1638.31,1810.16 1630.20,1805.60 1622.09,1810.16 1623.92,1801.04 1617.07,1794.74 1626.32,1793.66" fill="#e01414" stroke="#8b1a1a" stroke-width="1.6"/>
<polygon points="1661.11,1785.20 1664.99,1793.66 1674.23,1794.74 1667.39,1801.04 1669.22,1810.16 1661.11,1805.60 1653.00,1810.16 1654.83,1801.04 1647.98,1794.74 1657.23,1793.66" fill="#e01414" stroke="#8b1a1a" stroke-width="1.6"/>
<polygon points="1692.02,1785.20 1695.90,1793.66 1705.14,1794.74 1698.30,1801.04 1700.13,1810.16 1692.02,1805.60 1683.91,1810.16 1685.74,1801.04 1678.89,1794.74 1688.14,1793.66" fill="#e01414" stroke="#8b1a1a" stroke-width="1.6"/>
<polygon points="1722.93,1785.20 1726.81,1793.66 1736.05,1794.74 1729.21,1801.04 1731.04,1810.16 1722.93,1805.60 1714.82,1810.16 1716.65,1801.04 1709.80,1794.74 1719.05,1793.66" fill="#e01414" stroke="#8b1a1a" stroke-width="1.6"/>
<polygon points="1753.84,1785.20 1757.72,1793.66 1766.96,1794.74 1760.12,1801.04 1761.95,1810.16 1753.84,1805.60 1745.73,1810.16 1747.56,1801.04 1740.71,1794.74 1749.96,1793.66" fill="#e01414" stroke="#8b1a1a" stroke-width="1.6"/>
<polygon points="1784.75,1785.20 1788.63,1793.66 1797.87,1794.74 1791.03,1801.04 1792.86,1810.16 1784.75,1805.60 1776.64,1810.16 1778.47,1801.04 1771.62,1794.74 1780.87,1793.66" fill="#e01414" stroke="#8b1a1a" stroke-width="1.6"/>
<polygon points="1815.66,1785.20 1819.54,1793.66 1828.78,1794.74 1821.94,1801.04 1823.77,1810.16 1815.66,1805.60 1807.55,1810.16 1809.38,1801.04 1802.53,1794.74 1811.78,1793.66" fill="#e01414" stroke="#8b1a1a" stroke-width="1.6"/>
<polygon points="1846.57,1785.20 1850.45,1793.66 1859.69,1794.74 1852.85,1801.04 1854.68,1810.16 1846.57,1805.60 1838.46,1810.16 1840.29,1801.04 1833.44,1794.74 1842.69,1793.66" fill="#e01414" stroke="#8b1a1a" stroke-width="1.6"/>
<polygon points="1877.48,1785.20 1881.36,1793.66 1890.60,1794.74 1883.76,1801.04 1885.59,1810.16 1877.48,1805.60 1869.37,1810.16 1871.20,1801.04 1864.36,1794.74 1873.60,1793.66" fill="#e01414" stroke="#8b1a1a" stroke-width="1.6"/>
<polygon points="1908.39,1785.20 1912.27,1793.66 1921.51,1794.74 1914.67,1801.04 1916.50,1810.16 1908.39,1805.60 1900.28,1810.16 1902.11,1801.04 1895.27,1794.74 1904.51,1793.66" fill="#e01414" stroke="#8b1a1a" stroke-width="1.6"/>
<polygon points="1939.30,1785.20 1943.18,1793.66 1952.42,1794.74 1945.58,1801.04 1947.41,1810.16 1939.30,1805.60 1931.19,1810.16 1933.02,1801.04 1926.18,1794.74 1935.42,1793.66" fill="#e01414" stroke="#8b1a1a" stroke-width="1.6"/>
</g>
<line x1="1081.00" y1="2567.70" x2="1255.30" y2="2567.70" stroke="#262650" stroke-width="3.2" />
<circle cx="1168.2" cy="2567.7" r="12.8" fill="#0000ee" stroke="#000080" stroke-width="1.4"/>
<line x1="1083.70" y1="2660.70" x2="1252.70" y2="2660.70" stroke="#74487a" stroke-width="2.2" />
<polygon points="1168.2,2645.3 1184.4,2669.4 1152.2,2669.4" fill="#e61ee6" stroke="#a01ea0" stroke-width="1"/>
<line x1="1081.00" y1="2754.60" x2="1255.30" y2="2754.60" stroke="#7a2e2e" stroke-width="5" />
<polygon points="1168.20,2740.00 1172.08,2748.66 1181.51,2749.67 1174.48,2756.04 1176.43,2765.33 1168.20,2760.60 1159.97,2765.33 1161.92,2756.04 1154.89,2749.67 1164.32,2748.66" fill="#e01414" stroke="#8b1a1a" stroke-width="1.3"/>
<text transform="translate(1270.95,2590.70) scale(1.0640,1)" font-size="65" font-weight="normal" fill="#000" >Traditional MOPSO</text>
<text transform="translate(1270.26,2686.90) scale(1.0350,1)" font-size="65" font-weight="normal" fill="#000" >MADS</text>
<text transform="translate(1269.45,2778.60) scale(1.0317,1)" font-size="65" font-weight="normal" fill="#000" >GPR-AWMOPSO</text>
</svg></body></html>
